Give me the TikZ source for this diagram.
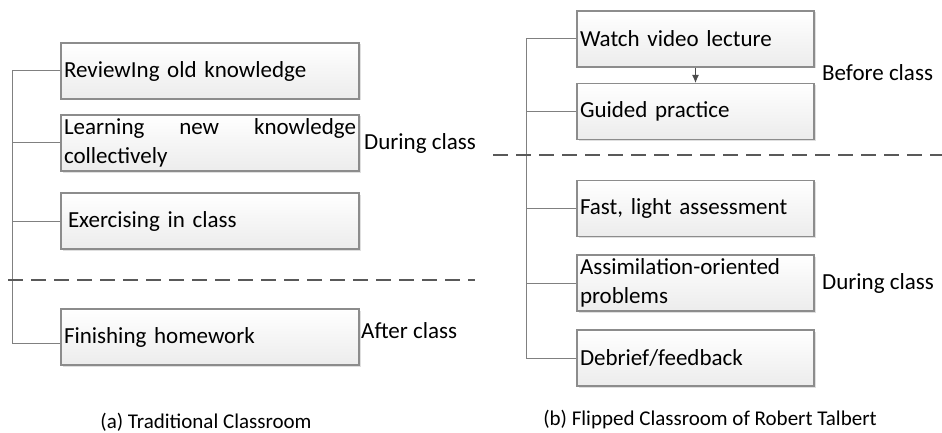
\documentclass[tikz,border=0pt]{standalone}
\usepackage{fontspec}
\setmainfont{Carlito}
\usetikzlibrary{positioning, shapes, arrows, arrows.meta, shadows}
\hyphenpenalty=10000
\tikzset{
	stepbox/.style={draw=gray!90, line width=1.1pt, top color=white, bottom color=gray!15,
		drop shadow={shadow xshift=1.5pt, shadow yshift=-1.5pt, opacity=.25},
		minimum height=56pt, inner xsep=3pt, inner ysep=0pt, align=left,
		font=\fontsize{23}{28.5}\selectfont},
	lbox/.style={stepbox, minimum width=298pt, text width=292pt},
	rbox/.style={stepbox, minimum width=237pt, text width=231pt},
	phase/.style={anchor=west, inner sep=0pt, font=\fontsize{23}{28.5}\selectfont},
	caption/.style={inner sep=0pt, font=\fontsize{21}{25}\selectfont},
	branch/.style={gray, line width=1pt},
	divider/.style={black!65, line width=1.8pt, dash pattern=on 15pt off 8pt}
}

\begin{document}
\begin{tikzpicture}[x=1pt, y=-1pt]
\useasboundingbox (0,0) rectangle (942,433);
% (a) traditional classroom
\node[lbox] (l1) at (210,71) {ReviewIng old knowledge};
\node[lbox, align=justify] (l2) at (210,143) {Learning new knowledge collectively};
\node[lbox] (l3) at (210,221) {\hspace*{4pt}Exercising in class};
\node[lbox] (l4) at (210,337) {Finishing homework};
\coordinate (lroot) at (12,343);
\draw[branch] (l1.west) -| (lroot) -- (lroot -| l4.west);
\foreach \i in {2,3}
	\draw[branch] (l\i.west) -- (l\i.west -| lroot);
\coordinate (ld1) at (8,280);
\coordinate (ld2) at (475,280);
\draw[divider] (ld1) -- (ld2);
\node[phase] (lduring) at (364,143) {During class};
\node[phase] (lafter) at (361,331) {After class};
\node[caption] (lcap) at (206,422) {(a) Traditional Classroom};
% (b) flipped classroom
\node[rbox] (r1) at (695.5,39) {Watch video lecture};
\node[rbox] (r2) at (695.5,111.5) {Guided practice};
\node[rbox] (r3) at (695.5,208.5) {Fast, light assessment};
\node[rbox] (r4) at (695.5,283) {Assimilation-oriented problems};
\node[rbox] (r5) at (695.5,358) {Debrief/feedback};
\coordinate (rroot) at (526,0);
\draw[branch] (r1.west) -| (rroot |- r5.west) -- (r5.west);
\foreach \i in {2,3,4}
	\draw[branch] (r\i.west) -- (rroot |- r\i.west);
\draw[branch, black!70, -{Latex[length=8pt, width=7pt]}] (r1) -- (r2);
\coordinate (rd1) at (493,155);
\coordinate (rd2) at (942,155);
\draw[divider] (rd1) -- (rd2);
\node[phase] (rbefore) at (822,73) {Before class};
\node[phase] (rduring) at (822,283) {During class};
\node[caption] (rcap) at (710,420) {(b) Flipped Classroom of Robert Talbert};
\end{tikzpicture}
\end{document}
